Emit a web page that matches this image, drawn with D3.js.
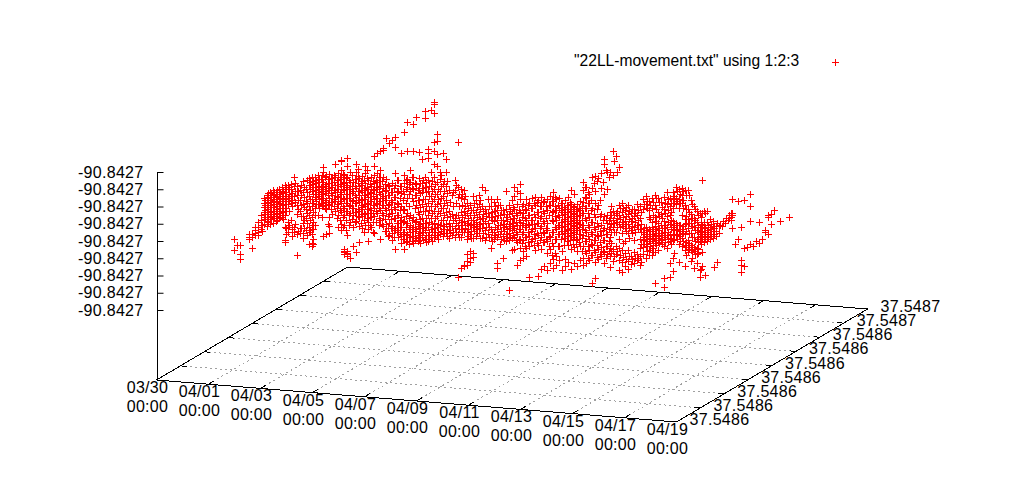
<!DOCTYPE html>
<html>
<head>
<meta charset="utf-8">
<script src="https://cdn.jsdelivr.net/npm/d3@7"></script>
<style>
  body { margin: 0; background: #fff; }
  text { font-family: "Liberation Sans", sans-serif; font-size: 16px; fill: #000; letter-spacing: 0.3px; }
  text.legend { font-size: 15.6px; letter-spacing: 0; }
</style>
</head>
<body>
<div id="chart"></div>
<script>
// tick labels as gnuplot printed them (rounded to 4 places)
const timeTicks = ["03/30", "04/01", "04/03", "04/05", "04/07", "04/09", "04/11", "04/13", "04/15", "04/17", "04/19"];
const timeTickDays = [0, 2, 4, 6, 8, 10, 12, 14, 16, 18, 20];
const latTicks = [37.54858, 37.54859, 37.54860, 37.54861, 37.54862, 37.54863, 37.54864, 37.54865, 37.54866];
const latLabels = ["37.5486", "37.5486", "37.5486", "37.5486", "37.5486", "37.5486", "37.5486", "37.5487", "37.5487"];
const lonTicks = [-90.84274, -90.84273, -90.84272, -90.84271, -90.84270, -90.84269, -90.84268, -90.84267, -90.84266];
const lonLabels = ["-90.8427", "-90.8427", "-90.8427", "-90.8427", "-90.8427", "-90.8427", "-90.8427", "-90.8427", "-90.8427"];
const legendLabel = '"22LL-movement.txt" using 1:2:3';

// one block per day of samples: start of the block (days since 03/30) and estimated latitude
const blockStart = [1.00, 2.01, 3.02, 4.03, 5.04, 6.05, 7.06, 8.07, 9.08, 10.09, 11.10, 12.11, 13.12, 14.13, 15.14, 16.15, 17.16, 18.17, 19.18];
const blockLat = [37.5485978, 37.5485993, 37.5486008, 37.5486023, 37.5486038, 37.5486053, 37.5486068, 37.5486083, 37.5486098, 37.5486113,
  37.5486128, 37.5486143, 37.5486158, 37.5486173, 37.5486188, 37.5486203, 37.5486218, 37.5486233, 37.5486248];

// longitude readings in millionths of a degree above -90.84274, ten slots per block
const day01 = [[], [], [], [28, 22], [25], [25, 20, 17], [], [], [32, 30, 29], [32, 30, 24]];
const day02 = [[33, 31, 30, 35], [35, 32, 30, 38], [36, 39, 42, 34], [37, 41, 44, 47, 49, 52], [36, 39, 43, 46, 49, 52, 54], [41, 44, 47, 51, 54, 56, 37], [38, 42, 45, 49, 52, 55, 57], [39, 43, 46, 50, 53, 56], [41, 45, 49, 52, 55, 58], [42, 45, 49, 53, 56, 59]];
const day03 = [[42, 46, 50, 53, 57, 59, 35, 27, 26], [48, 52, 57, 59, 38, 35, 32], [49, 53, 57, 60, 39], [64, 59, 53, 35, 32], [59, 54, 48, 43, 19, 31], [57, 51, 45, 35, 32], [62, 56, 49, 42, 38, 32, 29], [58, 51, 46, 41, 34], [64, 60, 54, 48, 43, 36, 33, 26], [65, 61, 57, 52, 48, 42, 37, 32, 27, 25]];
const day04 = [[64, 60, 56, 52, 46, 42, 36], [65, 61, 57, 53, 48, 42], [63, 58, 54, 49], [70, 67, 61, 57, 52, 48, 30], [65, 60, 56, 51, 46, 31], [66, 61, 57, 52, 48, 41, 32, 36], [64, 59, 54, 50, 43], [72, 65, 60, 56, 51, 45], [67, 63, 58, 53, 49, 43, 36], [75, 74, 69, 64, 60, 55, 50, 45, 38, 34]];
const day05 = [[20, 21, 19, 22, 65, 60, 56, 51, 46, 42, 36], [20, 21, 19, 18, 75, 70, 64, 59, 54, 49, 44, 30], [67, 61, 57, 52, 48, 43, 38, 17], [61, 56, 51, 46, 42, 35, 24], [72, 67, 63, 58, 53, 49, 44, 39, 21], [64, 59, 54, 50, 45, 41, 36, 27], [65, 60, 56, 51, 46, 42, 35], [71, 67, 61, 57, 52, 48, 43, 37], [63, 58, 53, 49, 44, 39, 35, 28], [65, 60, 56, 51, 46, 42, 36]];
const day06 = [[76, 70, 65, 60, 56, 51, 46, 41, 31], [78, 66, 61, 57, 52, 48, 43], [79, 68, 64, 59, 54, 50, 45, 39, 28], [80, 81, 64, 58, 53, 48, 42, 36], [87, 63, 57, 51, 45, 37, 33], [84, 59, 54, 49, 43, 38, 31], [86, 61, 56, 50, 44, 36, 32, 28], [88, 82, 67, 60, 53, 46, 41, 35, 23], [63, 57, 49, 43, 38, 34, 30], [79, 60, 56, 48, 42, 36, 31, 27]];
const day07 = [[90, 65, 60, 54, 45, 38, 32, 28, 22], [96, 79, 63, 58, 52, 43, 37, 31, 27], [68, 61, 56, 42, 36, 32, 29], [95, 79, 64, 57, 50, 41, 35, 30, 26], [99, 60, 54, 48, 39, 34, 29], [79, 64, 58, 51, 43, 37, 32, 28], [75, 61, 56, 49, 41, 35, 30], [103, 99, 65, 59, 52, 45, 38, 34, 29], [81, 79, 76, 63, 57, 50, 43, 36, 31, 28], [104, 68, 60, 54, 48, 41, 35, 30]];
const day08 = [[107, 106, 101, 84, 79, 71, 64, 57, 51, 44, 37, 32, 29], [89, 85, 77, 70, 61, 54, 48, 41, 35, 30], [67, 63, 56, 49, 43, 36, 31], [78, 60, 53, 46, 39, 34, 30], [75, 67, 59, 51, 44, 37, 32], [57, 45, 38, 34, 29], [54, 43, 36, 31], [63, 57, 41, 35, 30], [85, 59, 53, 43, 37, 32, 7], [58, 53, 45, 39, 35, 30, 12]];
const day09 = [[56, 51, 44, 38, 32, 13, 12], [49, 43, 37, 32, 28, 19, 15, 13], [48, 42, 36, 31, 21, 17, 15], [53, 45, 39, 35, 29, 20, 18], [51, 44, 38, 34, 30], [54, 49, 43, 37, 32], [59, 48, 41, 35, 29], [57, 46, 39, 34, 28], [52, 44, 38, 32], [52, 48, 42, 35, 30, 24]];
const day10 = [[49, 44, 38, 32, 28], [51, 45, 39, 34, 29, 14, 11], [48, 42, 36, 31, 25], [45, 39, 35, 30, 17], [56, 46, 41, 36, 31, 27], [48, 43, 37, 32, -1, 28], [51, 44, 38, 34, 29, 22], [54, 59, 46, 41, 35, 30, 23], [57, 49, 43, 37, 32, 27, 14], [61, 56, 52, 45, 39, 35, 29, 24, 17]];
const day11 = [[48, 43, 37, 32, 27, 21, 17], [51, 45, 39, 35, 29, 23, 18], [49, 42, 36, 30, 24, 6], [52, 46, 39, 34, 28], [53, 48, 41, 35, 29, 22], [51, 44, 38, 31, 25, 7], [53, 48, 42, 36, 30, 23, 11], [51, 44, 38, 32, 27, 13], [52, 46, 38, 34, 28, 21, 11], [54, 49, 30, 23, 15]];
const day12 = [[55, 50, 44, 38, 32, 24, 16, 11], [51, 45, 39, 34, 28, 18, 13], [52, 46, 41, 36, 31, 24, 16], [49, 45, 42, 38, 35, 31, 21, 10], [51, 46, 43, 39, 36, 32, 29, 17, 13], [53, 48, 44, 41, 37, 34, 30, 25, 15], [57, 49, 45, 42, 38, 35, 31, 23, 11], [55, 48, 44, 41, 37, 34, 30, 24, 15], [49, 45, 42, 38, 34, 29, 22, 13], [51, 46, 43, 38, 32, 25, 17]];
const day13 = [[61, 56, 49, 43, 36, 30, 24, 17, 13], [58, 52, 46, 39, 32, 27, 20, 14], [54, 49, 41, 35, 28, 22, 16], [64, 58, 46, 38, 31, 25, 19, 3], [65, 56, 49, 41, 34, 28, 21, 15, 6], [64, 48, 36, 30, 23, 17], [67, 58, 43, 37, 31, 24, 19], [75, 72, 55, 42, 35, 28, 21, 15], [68, 58, 43, 38, 32, 25, 20], [68, 45, 41, 36, 30, 24, 19, 13]];
const day14 = [[79, 65, 44, 39, 35, 22, 15], [76, 43, 38, 32, 24, 19], [70, 48, 42, 37, 28, 23, 16, 10], [49, 44, 38, 32, 22, 15, 9], [45, 39, 35, 27, 20, 13], [48, 43, 37, 32, 22, 16, 11], [44, 39, 34, 19, 14], [46, 42, 36, 28, 21, 15], [49, 43, 37, 20, 17], [48, 41, 35, 29, 24, 19, 14]];
const day15 = [[51, 45, 32, 29, 27, 23, 19], [53, 48, 35, 31, 28, 24, 17], [50, 45, 41, 34, 30, 27, 22, 19], [52, 46, 38, 35, 31, 28, 23, 19], [54, 48, 41, 36, 32, 29, 26, 21, 3], [52, 44, 38, 34, 30, 27, 22], [50, 43, 37, 32, 28], [53, 46, 39, 35, 30, 25, 6, 1], [56, 49, 42, 36, 31, 24], [53, 48, 43, 38, 32, 28, 15, 7]];
const day16 = [[55, 51, 46, 38, 35, 31, 27, 17, 9], [58, 52, 48, 37, 34, 30], [57, 51, 46, 36, 31, 25, 15], [58, 54, 49, 42, 34, 29, 24], [57, 48, 40, 37, 31, 25, 22, 13], [57, 46, 40, 35, 28, 24, 21], [51, 43, 38, 32, 25, 22, 16], [48, 41, 36, 30, 24, 22, 12], [45, 39, 34, 29, 24, 20, 15], [44, 36, 32, 28, 11, 7]];
const day17 = [[62, 43, 36, 32, 29, 20, 12], [43, 35, 31, 28, 7], [36, 32, 29], [37, 34, 30], [35, 31, 12], [38, 15], [37], [39], [41], [43, 41]];
const day18 = [[51, 43, 42, 34], [25], [50, 28], [35, 16, 13, 9], [51, 23, 13], [24], [55, 48, 39, 26], [25], [28], [27, 39]];
const day19 = [[28], [33, 32], [42, 41, 31], [37, 43], [45], [], [39], [], [], [42]];
const lonByDay = [day01, day02, day03, day04, day05, day06, day07, day08, day09, day10, day11, day12, day13, day14, day15, day16, day17, day18, day19];

// more readings for the crowded parts of the cloud, same units, half a slot later
const fill02 = [[], [], [33, 36], [40, 43, 45, 48, 51], [38, 41, 44, 47, 50, 53, 55], [40, 42, 45, 48, 50, 53, 55], [41, 43, 47, 50, 51, 54, 56], [40, 42, 44, 48, 51, 54, 57], [42, 44, 47, 50, 53, 56], [41, 43, 47, 51, 54, 57]];
const fill03 = [[44, 48, 51, 55, 58, 34, 31], [44, 50, 54, 58, 36], [47, 51, 55, 34, 30], [61, 56, 50, 37], [56, 51, 46, 33], [60, 54, 48, 42, 35], [59, 53, 47, 40, 35], [63, 56, 50, 44, 38, 31], [62, 58, 52, 46, 40, 34], [63, 59, 55, 50, 45, 39, 35, 29, 26]];
const fill04 = [[62, 58, 54, 50, 48], [63, 59, 55, 51, 46], [65, 61, 56, 52, 47, 41], [64, 59, 55, 50, 46], [63, 58, 54, 49, 37], [64, 59, 55, 50, 46], [66, 62, 57, 52, 48], [63, 58, 54, 49, 47, 41], [65, 61, 56, 51, 46, 40], [67, 62, 58, 53, 48, 42, 36]];
const fill05 = [[63, 58, 54, 49, 44, 39, 33], [62, 57, 52, 47, 42, 36], [65, 59, 55, 50, 46, 40], [63, 59, 54, 49, 44, 38], [69, 65, 61, 56, 51, 46, 42], [62, 57, 52, 48, 47, 43, 38], [63, 58, 54, 49, 44, 40, 33], [69, 64, 59, 55, 50, 46, 41], [61, 56, 51, 47, 46, 42, 37], [63, 58, 54, 49, 44, 39, 33]];
const fill06 = [[62, 58, 54, 49, 44, 38], [64, 59, 55, 50, 46, 40, 36], [62, 56, 52, 48, 43, 37], [60, 56, 51, 46, 40, 33], [60, 54, 48, 42, 35, 30], [56, 51, 46, 40, 35], [58, 53, 47, 41, 34, 30], [63, 56, 50, 43, 38, 33], [60, 53, 46, 40, 36, 32], [57, 52, 46, 39, 33, 29]];
const fill07 = [[62, 57, 49, 41, 35, 30, 26], [60, 54, 47, 40, 34, 29, 25], [64, 58, 52, 39, 34, 30, 27], [61, 54, 46, 38, 33, 28], [57, 51, 44, 36, 31, 27], [61, 55, 47, 40, 35, 30, 26], [63, 58, 52, 45, 38, 33, 28], [62, 56, 48, 41, 36, 31, 27], [60, 54, 46, 39, 33, 29], [63, 57, 51, 44, 38, 33, 28]];
const fill08 = [[60, 54, 47, 40, 34, 30], [57, 51, 44, 37, 32, 28], [65, 59, 52, 46, 39, 33], [62, 56, 49, 42, 36, 32], [62, 55, 48, 41, 34, 30], [50, 42, 36, 32], [56, 48, 40, 33], [60, 50, 43, 38, 33], [55, 48, 40, 35, 30], [55, 49, 42, 37, 33]];
const fill09 = [[53, 47, 42, 36, 34], [46, 40, 36, 34, 30], [45, 39, 37, 33, 29], [49, 42, 37, 33], [47, 41, 36, 32], [51, 46, 40, 35, 29], [45, 43, 38, 32], [44, 42, 36, 30], [48, 42, 36, 30], [45, 40, 33, 28]];
const fill10 = [[47, 41, 35, 30], [48, 42, 36, 31], [45, 39, 33, 28], [43, 37, 33, 28], [43, 39, 34, 29], [45, 40, 35, 30], [47, 41, 36, 31], [44, 39, 33, 28], [46, 40, 35, 29], [48, 42, 37, 32, 27]];
const fill11 = [[45, 40, 35, 29, 24], [48, 42, 37, 32, 26], [46, 39, 33, 27], [49, 43, 37, 31, 25], [50, 44, 38, 32, 26], [48, 41, 35, 28], [50, 45, 39, 33, 27], [48, 41, 35, 29], [49, 43, 31, 25], [51, 45, 40, 33, 27, 20]];
const fill12 = [[52, 47, 41, 35, 28, 20], [48, 42, 36, 31, 24], [49, 44, 38, 33, 28], [47, 43, 40, 36, 33, 29, 25], [48, 44, 41, 37, 34, 30, 27], [50, 46, 42, 39, 35, 32, 28], [47, 43, 40, 36, 33, 29, 26], [46, 42, 39, 35, 32, 28, 26], [47, 43, 40, 36, 32, 27], [48, 44, 40, 35, 30, 22]];
const fill13 = [[58, 52, 46, 40, 33, 27, 21], [55, 49, 43, 36, 30, 24, 17], [51, 45, 38, 32, 25, 19], [61, 43, 35, 28, 22], [62, 46, 38, 31, 25, 18], [51, 42, 33, 27, 20], [62, 40, 34, 28, 22], [69, 40, 32, 25, 18], [65, 40, 35, 28, 22], [48, 43, 38, 33, 27, 21]];
const fill14 = [[73, 42, 37, 32, 18], [67, 44, 40, 35, 21], [46, 40, 35, 19], [46, 41, 36, 26, 18], [47, 42, 37, 33, 17], [45, 40, 35, 29, 19], [46, 41, 36, 32, 17], [44, 39, 33, 18], [46, 40, 35, 18], [45, 38, 33, 26, 16]];
const fill15 = [[48, 34, 31, 28, 25], [50, 46, 33, 30, 27, 25, 21], [48, 40, 33, 29, 26, 24], [50, 42, 33, 30, 27, 25, 21], [52, 46, 39, 34, 31, 28, 25], [50, 42, 35, 32, 29, 26], [47, 41, 35, 31, 29, 26], [50, 44, 37, 33, 29, 27], [52, 46, 39, 33, 29, 27], [50, 45, 40, 35, 30, 26]];
const fill16 = [[53, 49, 36, 33, 30, 28, 20], [56, 50, 36, 33, 31, 28], [54, 49, 36, 33, 30, 27], [56, 51, 46, 36, 32, 27], [54, 46, 42, 38, 33, 27, 24, 19], [54, 44, 38, 32, 26, 23], [49, 41, 36, 30, 24, 21, 18], [46, 40, 34, 28, 23, 20], [43, 37, 33, 30, 27, 23, 21], [42, 38, 34, 31, 29, 26, 12]];
const fill17 = [[44, 38, 34, 31, 28, 26], [44, 38, 33, 30, 27], [40, 35, 31, 28], [39, 36, 33, 29], [36, 33, 30], [36, 32], [36], [38], [40], [44, 42, 40]];
const lonFillByDay = [[], fill02, fill03, fill04, fill05, fill06, fill07, fill08, fill09, fill10, fill11, fill12, fill13, fill14, fill15, fill16, fill17];

const width = 1024;
const height = 500;

// gnuplot view: where the base corners and the z axis ended up on the page
const baseX = 156.5;
const baseY = 380;
const timeVec = [520, 42];
const latVec = [191, -113];
const lonBottom = 310;
const lonTop = 172;
const slotDays = 0.115;

const startDate = Date.UTC(2011, 2, 30);
const toDate = d => new Date(startDate + d * 864e5);

const xScale = d3.scaleUtc([toDate(0), toDate(20)], [0, 1]);
const yScale = d3.scaleLinear([latTicks[0], latTicks[latTicks.length - 1]], [0, 1]);
const zScale = d3.scaleLinear([lonTicks[0], lonTicks[lonTicks.length - 1]], [lonBottom, lonTop]);

const project = (fx, fy) => [baseX + timeVec[0] * fx + latVec[0] * fy, baseY + timeVec[1] * fx + latVec[1] * fy];

const points = [];
const addReadings = (days, shift) => {
    days.forEach((slots, i) => {
        slots.forEach((lons, j) => {
            lons.forEach(u => {
                points.push({
                    time: toDate(blockStart[i] + (j + shift) * slotDays),
                    lat: blockLat[i],
                    lon: lonTicks[0] + u * 1e-6
                });
            });
        });
    });
};
addReadings(lonByDay, 0);
addReadings(lonFillByDay, 0.5);

const svg = d3.select("#chart")
    .append("svg")
    .attr("width", width)
    .attr("height", height)
    .attr("viewBox", [0, 0, width, height]);

// grid on the base
const grid = svg.append("g").attr("stroke", "#a0a0a0").attr("stroke-dasharray", "2,3");
const gridLine = (a, b) => grid.append("line")
    .attr("x1", a[0]).attr("y1", a[1])
    .attr("x2", b[0]).attr("y2", b[1])
    .attr("shape-rendering", "crispEdges");

timeTickDays.slice(1, -1).forEach(d => {
    const fx = xScale(toDate(d));
    gridLine(project(fx, 0), project(fx, 1));
});
latTicks.slice(1, -1).forEach(v => {
    const fy = yScale(v);
    gridLine(project(0, fy), project(1, fy));
});

// base border
const border = svg.append("g").attr("stroke", "#000");
const borderLine = (a, b) => border.append("line")
    .attr("x1", a[0]).attr("y1", a[1])
    .attr("x2", b[0]).attr("y2", b[1])
    .attr("shape-rendering", "crispEdges");

borderLine(project(0, 0), project(1, 0));
borderLine(project(1, 0), project(1, 1));
borderLine(project(1, 1), project(0, 1));
borderLine(project(0, 1), project(0, 0));

// ticks on both sides of the base
timeTickDays.forEach(d => {
    const fx = xScale(toDate(d));
    borderLine(project(fx, 0), project(fx, 0.03));
    borderLine(project(fx, 1), project(fx, 0.97));
});
latTicks.forEach(v => {
    const fy = yScale(v);
    borderLine(project(0, fy), project(0.012, fy));
    borderLine(project(1, fy), project(0.988, fy));
});

// x tick labels, two lines each
const xLabels = svg.append("g").attr("text-anchor", "middle");
timeTickDays.forEach((d, i) => {
    const p = project(xScale(toDate(d)), 0);
    xLabels.append("text").attr("x", p[0] - 9).attr("y", p[1] + 13).text(timeTicks[i]);
    xLabels.append("text").attr("x", p[0] - 9).attr("y", p[1] + 32).text("00:00");
});

// y tick labels along the right side
const yLabels = svg.append("g").attr("text-anchor", "start");
latTicks.forEach((v, i) => {
    const p = project(1, yScale(v));
    yLabels.append("text").attr("x", p[0] + 13).attr("y", p[1] + 3).text(latLabels[i]);
});

// z axis
const zAxis = svg.append("g")
    .attr("transform", `translate(${Math.round(baseX) + 0.5},0)`)
    .call(d3.axisLeft(zScale)
        .tickValues(lonTicks)
        .tickFormat((d, i) => lonLabels[i])
        .tickSize(-6)
        .tickPadding(14));
zAxis.select(".domain").remove();
zAxis.attr("font-size", null).attr("font-family", null);
svg.append("line")
    .attr("x1", Math.round(baseX) + 0.5).attr("x2", Math.round(baseX) + 0.5)
    .attr("y1", lonTop).attr("y2", baseY)
    .attr("stroke", "#000");

// data marks
const plus = "M-3.5,0H3.5M0,-3.5V3.5";
const screen = d => {
    const p = project(xScale(d.time), yScale(d.lat));
    // lon moves the point straight up from its base position
    return [p[0], p[1] - (baseY - lonBottom) - (lonBottom - zScale(d.lon))];
};
svg.append("g")
    .attr("fill", "none")
    .attr("stroke", "#f00")
    .selectAll("path")
    .data(points)
    .join("path")
    .attr("d", plus)
    .attr("transform", d => {
        const p = screen(d);
        return `translate(${Math.round(p[0]) + 0.5},${Math.round(p[1]) + 0.5})`;
    });

// legend
svg.append("text").attr("class", "legend").attr("x", 574).attr("y", 66).text(legendLabel);
svg.append("path")
    .attr("d", plus)
    .attr("fill", "none")
    .attr("stroke", "#f00")
    .attr("transform", "translate(835.5,62.5)");
</script>
</body>
</html>
